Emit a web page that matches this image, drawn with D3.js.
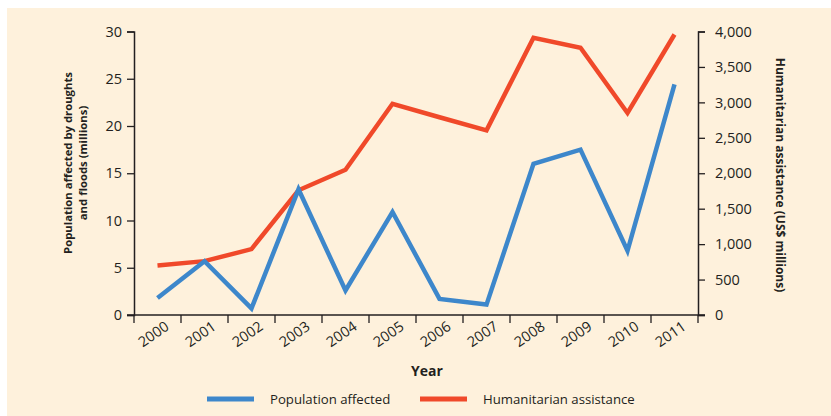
<!DOCTYPE html>
<html>
<head>
<meta charset="utf-8">
<script src="https://cdn.jsdelivr.net/npm/d3@7"></script>
<style>
body{margin:0;background:#fff;}
svg text{font-family:"Open Sans","Noto Sans",sans-serif;fill:#231f20;}
</style>
</head>
<body>
<svg id="chart" width="831" height="416"></svg>
<script>
const years = ["2000","2001","2002","2003","2004","2005","2006","2007","2008","2009","2010","2011"];
const populationAffected = [1.8, 5.7, 0.7, 13.3, 2.6, 10.9, 1.7, 1.1, 16.0, 17.5, 6.8, 24.4];
const humanitarianAssistance = [700, 760, 930, 1760, 2050, 2980, 2790, 2606, 3911, 3770, 2850, 3958];
const leftTicks = [0,5,10,15,20,25,30];
const rightTicks = [0,500,1000,1500,2000,2500,3000,3500,4000];
const seriesNames = ["Population affected","Humanitarian assistance"];
const colors = ["#3d87cb","#f0492a"];

const svg = d3.select("#chart");
svg.append("rect").attr("x",7).attr("y",8).attr("width",824).attr("height",408).attr("fill","#fef1dc");

const x0 = 134, x1 = 698, yTop = 31.5, yBot = 315;
const x = d3.scaleBand().domain(years).range([x0,x1]).padding(0);
const yL = d3.scaleLinear().domain([0,30]).range([yBot,yTop]);
const yR = d3.scaleLinear().domain([0,4000]).range([yBot,yTop]);

// lines
const lineL = d3.line().x((d,i)=>x(years[i])+x.bandwidth()/2).y(d=>yL(d));
const lineR = d3.line().x((d,i)=>x(years[i])+x.bandwidth()/2).y(d=>yR(d));
svg.append("path").attr("d",lineR(humanitarianAssistance)).attr("fill","none")
  .attr("stroke",colors[1]).attr("stroke-width",4.5).attr("stroke-linejoin","miter");
svg.append("path").attr("d",lineL(populationAffected)).attr("fill","none")
  .attr("stroke",colors[0]).attr("stroke-width",4.5).attr("stroke-linejoin","miter");

// left axis
const gL = svg.append("g").attr("transform",`translate(${x0},0)`)
  .call(d3.axisLeft(yL).tickValues(leftTicks).tickSize(7).tickPadding(5).tickSizeOuter(7));
// right axis
const gR = svg.append("g").attr("transform",`translate(${x1},0)`)
  .call(d3.axisRight(yR).tickValues(rightTicks).tickSize(7).tickPadding(10).tickSizeOuter(7).tickFormat(d3.format(",")));
// bottom axis
const gB = svg.append("g").attr("transform",`translate(0,${yBot})`)
  .call(d3.axisBottom(x).tickSize(0).tickFormat(d=>d));
gB.selectAll(".tick text").attr("text-anchor","middle")
  .attr("transform","translate(-4,19) rotate(-35)").attr("dy","0.35em").attr("y",0);
// tick marks at band boundaries
const bounds = years.map(y=>x(y)).concat([x1]);
gB.selectAll("line.bnd").data(bounds).enter().append("line").attr("class","bnd")
  .attr("x1",d=>d).attr("x2",d=>d).attr("y1",0).attr("y2",8).attr("stroke","#231f20").attr("stroke-width",1.3);
gB.select(".domain").attr("d",`M${x0-7},0H${x1+7}`);

[gL,gR,gB].forEach(g=>{
  g.selectAll(".domain").attr("stroke","#231f20").attr("stroke-width",1.5);
  g.selectAll(".tick line").attr("stroke","#231f20").attr("stroke-width",1.3);
  g.selectAll(".tick text").attr("font-size",14.5).attr("fill","#231f20")
    .attr("font-family","'Open Sans','Noto Sans',sans-serif");
});

// axis titles
const lt = svg.append("text")
  .attr("font-size",11.3).attr("font-weight","bold").attr("text-anchor","middle");
lt.append("tspan").attr("x",-163).attr("y",72).text("Population affected by droughts");
lt.append("tspan").attr("x",-163).attr("y",87).text("and floods (millions)");
lt.attr("transform","rotate(-90)");

svg.append("text").attr("transform","translate(776,175) rotate(90)")
  .attr("font-size",12).attr("font-weight","bold").attr("text-anchor","middle")
  .text("Humanitarian assistance (US$ millions)");

svg.append("text").attr("x",427).attr("y",376).attr("font-size",14).attr("font-weight","bold")
  .attr("text-anchor","middle").text("Year");

// legend
const legX = [207,420], legTextX = [270,483];
seriesNames.forEach((n,i)=>{
  svg.append("line").attr("x1",legX[i]).attr("x2",legX[i]+47).attr("y1",399).attr("y2",399)
    .attr("stroke",colors[i]).attr("stroke-width",5);
  svg.append("text").attr("x",legTextX[i]).attr("y",403.5).attr("font-size",13.2).text(n);
});
</script>
</body>
</html>
